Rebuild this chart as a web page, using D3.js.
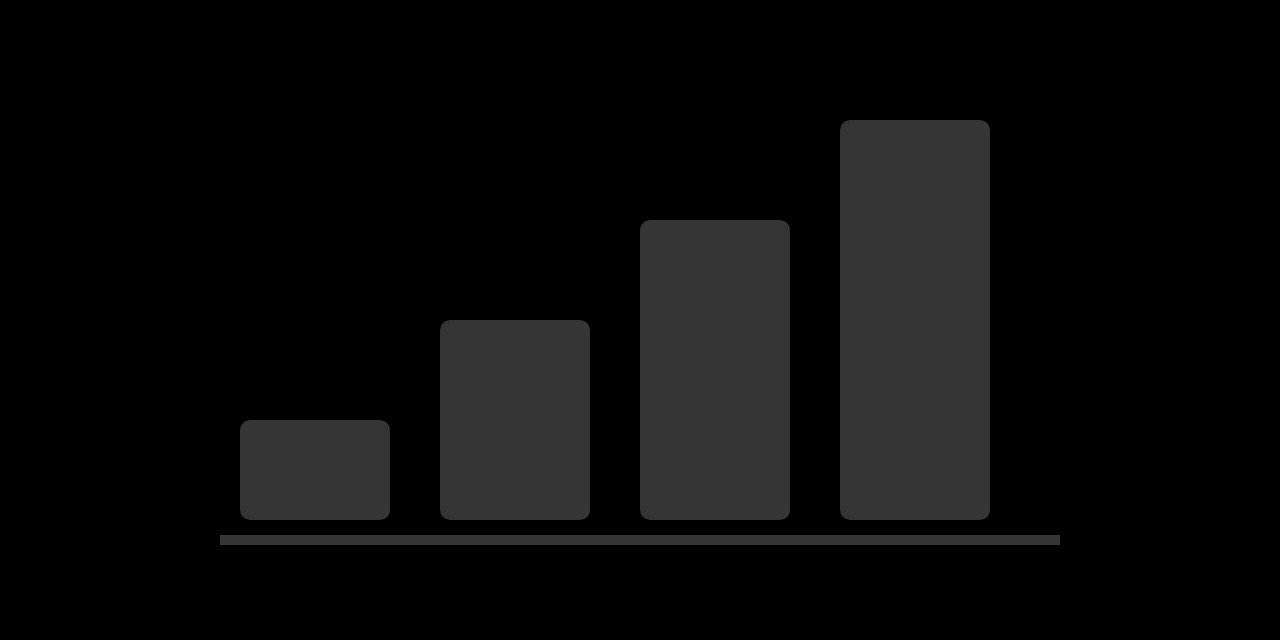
<!DOCTYPE html>
<html>
<head>
<meta charset="utf-8">
<script src="https://cdn.jsdelivr.net/npm/d3@7"></script>
<style>
  html, body { margin: 0; padding: 0; background: #000; }
  svg { display: block; }
</style>
</head>
<body>
<div id="app"></div>
<script>
const categories = ['A', 'B', 'C', 'D'];
const values = [1, 2, 3, 4];

const render = () => {
  const width = 1280;
  const height = 640;
  const barColor = '#353535';

  const svg = d3.select('#app').append('svg')
    .attr('width', width)
    .attr('height', height);

  svg.append('rect')
    .attr('width', width)
    .attr('height', height)
    .attr('fill', '#000');

  const x = d3.scaleBand()
    .domain(categories)
    .range([215, 1015])
    .paddingInner(0.25)
    .paddingOuter(0.125);

  const y = d3.scaleLinear()
    .domain([0, 4])
    .range([520, 120]);

  const data = categories.map((c, i) => ({ cat: c, value: values[i] }));

  svg.selectAll('rect.bar')
    .data(data)
    .join('rect')
    .attr('class', 'bar')
    .attr('x', d => x(d.cat))
    .attr('y', d => y(d.value))
    .attr('width', x.bandwidth())
    .attr('height', d => y(0) - y(d.value))
    .attr('rx', 10)
    .attr('ry', 10)
    .attr('fill', barColor);

  // baseline
  svg.append('rect')
    .attr('x', 220)
    .attr('y', y(0) + 15)
    .attr('width', 840)
    .attr('height', 10)
    .attr('fill', barColor);
};

document.addEventListener('DOMContentLoaded', render);
</script>
</body>
</html>
